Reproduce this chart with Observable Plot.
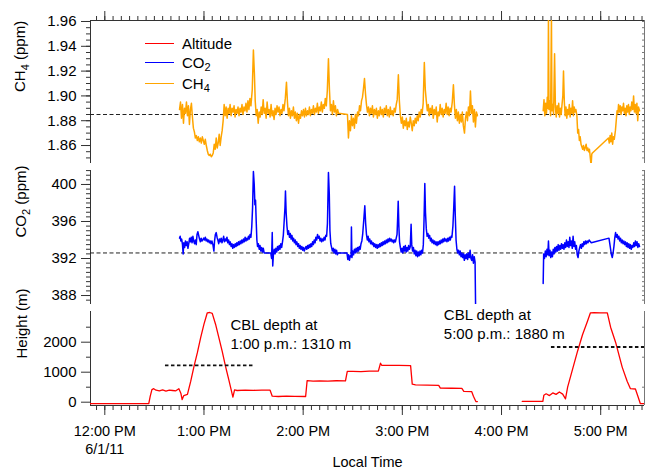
<!DOCTYPE html>
<html><head><meta charset="utf-8">
<script src="https://cdn.jsdelivr.net/npm/d3@7"></script>
<script src="https://cdn.jsdelivr.net/npm/@observablehq/plot@0.6"></script>
<style>
body{margin:0;background:#fff;}
#chart{position:relative;width:646px;height:472px;font-family:"Liberation Sans",Arial,sans-serif;overflow:hidden;}
#chart svg{position:absolute;left:0;}
.leg{position:absolute;left:182px;font-size:15px;line-height:18px;color:#000;white-space:nowrap;}
.leg sub{font-size:11px;vertical-align:-3px;line-height:0;}
.sw{position:absolute;left:145px;width:29px;height:1.5px;}
</style></head><body><div id="chart"></div>
<script>
// ---- time axis (minutes after 12:00 PM, 6/1/11) ----
const hourTicks = [0, 60, 120, 180, 240, 300];
const hourLabels = ["12:00 PM\n6/1/11", "1:00 PM", "2:00 PM", "3:00 PM", "4:00 PM", "5:00 PM"];
const xMinor = d3.range(-5, 326, 5);

// ---- CH4 (ppm) ----
const ch4Baseline = 1.885;
const ch4Major = [1.86, 1.88, 1.90, 1.92, 1.94, 1.96];
const ch4Flight1 = [
[45.2,1.889],[45.8,1.895],[46.4,1.882],[47.0,1.893],[47.6,1.878],[48.2,1.890],[48.8,1.886],[49.4,1.895],[50.0,1.884],[50.6,1.892],
[51.2,1.877],[51.8,1.889],[52.4,1.894],[53.0,1.883],[53.6,1.874],[54.2,1.871],[54.8,1.866],[55.4,1.868],[56.0,1.864],[56.6,1.867],
[57.2,1.863],[57.8,1.866],[58.4,1.862],[59.0,1.867],[59.6,1.864],[60.2,1.861],[60.8,1.865],[61.4,1.860],[62.0,1.856],[62.6,1.853],
[63.2,1.852],[63.8,1.853],[64.4,1.851],[65.0,1.852],[65.6,1.854],[66.2,1.861],[66.8,1.857],[67.4,1.866],[68.0,1.858],[68.6,1.862],
[69.2,1.869],[69.8,1.860],[70.4,1.867],[71.0,1.872],[71.6,1.880],[72.2,1.893],[72.8,1.884],[73.4,1.891],[74.0,1.882],[74.6,1.890],
[75.2,1.886],[75.8,1.893],[76.4,1.884],[77.0,1.890],[77.6,1.887],[78.2,1.892],[78.8,1.883],[79.4,1.889],[80.0,1.886],[80.6,1.891],
[81.2,1.884],[81.8,1.890],[82.4,1.887],[83.0,1.893],[83.6,1.885],[84.2,1.891],[84.8,1.888],[85.4,1.894],[86.0,1.887],[86.6,1.896],
[87.2,1.889],[87.8,1.898],[88.4,1.892],[89.2,1.905],[89.9,1.937],[90.5,1.918],[91.0,1.896],[91.6,1.884],[92.2,1.889],[92.8,1.878],
[93.4,1.887],[94.0,1.883],[94.6,1.891],[95.2,1.885],[95.8,1.897],[96.4,1.886],[97.0,1.890],[97.6,1.882],[98.2,1.895],[98.8,1.886],
[99.4,1.889],[100.0,1.883],[100.6,1.893],[101.2,1.884],[101.8,1.888],[102.4,1.881],[103.0,1.890],[103.6,1.885],[104.2,1.892],[104.8,1.887],
[105.4,1.891],[106.0,1.884],[106.6,1.889],[107.2,1.886],[107.8,1.893],[108.4,1.888],[109.2,1.898],[109.9,1.911],[110.5,1.895],[111.1,1.884],
[111.7,1.890],[112.3,1.882],[112.9,1.888],[113.5,1.884],[114.1,1.891],[114.7,1.882],[115.3,1.887],[115.9,1.880],[116.5,1.886],[117.2,1.878],
[117.8,1.885],[118.4,1.882],[119.0,1.888],[119.6,1.884],[120.2,1.889],[120.8,1.883],[121.4,1.890],[122.0,1.884],[122.6,1.888],[123.2,1.885],
[123.8,1.891],[124.4,1.884],[125.0,1.889],[125.6,1.886],[126.2,1.892],[126.8,1.885],[127.4,1.890],[128.0,1.887],[128.6,1.894],[129.2,1.886],
[129.8,1.891],[130.4,1.888],[131.0,1.895],[131.6,1.887],[132.2,1.893],[132.8,1.890],[133.4,1.898],[134.0,1.892],[134.6,1.904],[135.3,1.930],
[135.9,1.905],[136.5,1.888],[137.1,1.893],[137.7,1.885],[138.3,1.896],[138.9,1.887],[139.5,1.892],[140.1,1.884],[140.8,1.889],[141.4,1.886],
[146.8,1.885],[147.4,1.866],[148.0,1.880],[148.6,1.872],[149.2,1.884],[149.8,1.876],[150.4,1.882],[151.0,1.874],[151.6,1.885],[152.2,1.878],
[152.9,1.887],[153.5,1.884],[154.1,1.892],[154.7,1.888],[155.3,1.896],[155.9,1.899],[156.5,1.906],[157.1,1.914],[157.7,1.902],[158.3,1.893],
[158.9,1.887],[159.5,1.891],[160.1,1.884],[160.7,1.890],[161.3,1.886],[161.9,1.892],[162.5,1.883],[163.1,1.889],[163.7,1.885],[164.3,1.890],
[164.9,1.882],[165.5,1.888],[166.1,1.884],[166.7,1.891],[167.3,1.885],[167.9,1.889],[168.5,1.883],[169.1,1.890],[169.7,1.886],[170.3,1.892],
[170.9,1.884],[171.5,1.889],[172.1,1.883],[172.7,1.891],[173.3,1.885],[173.9,1.888],[174.5,1.884],[175.1,1.890],[175.7,1.887],[176.3,1.893],
[176.9,1.897],[177.6,1.917],[178.2,1.896],[178.8,1.884],[179.4,1.878],[180.0,1.883],[180.6,1.874],[181.2,1.880],[181.8,1.876],[182.4,1.882],
[183.0,1.873],[183.6,1.879],[184.2,1.875],[184.8,1.883],[185.4,1.878],[186.0,1.872],[186.6,1.880],[187.2,1.876],[187.8,1.882],[188.4,1.878],
[189.0,1.884],[189.6,1.880],[190.2,1.887],[190.8,1.883],[191.4,1.889],[192.0,1.886],[192.6,1.894],[193.3,1.927],[193.9,1.905],[194.5,1.896],
[195.1,1.888],[195.7,1.893],[196.3,1.884],[196.9,1.890],[197.5,1.886],[198.1,1.892],[198.7,1.882],[199.3,1.889],[199.9,1.885],[200.5,1.891],
[201.1,1.879],[201.7,1.887],[202.3,1.884],[202.9,1.893],[203.5,1.885],[204.1,1.890],[204.7,1.883],[205.3,1.889],[205.9,1.886],[206.5,1.894],
[207.1,1.885],[207.7,1.891],[208.3,1.884],[208.9,1.890],[209.5,1.887],[210.2,1.895],[210.9,1.909],[211.5,1.893],[212.1,1.882],[212.7,1.889],
[213.3,1.880],[213.9,1.887],[214.5,1.878],[215.1,1.885],[215.7,1.879],[216.3,1.887],[216.9,1.876],[217.6,1.870],[218.2,1.882],[218.8,1.887],
[219.4,1.880],[220.0,1.891],[220.6,1.884],[221.2,1.904],[221.8,1.886],[222.4,1.892],[223.0,1.879],[223.6,1.889],[224.2,1.875],[224.8,1.887],
[225.4,1.884]];
const ch4Flight2 = [
[265.2,1.888],[265.7,1.897],[266.2,1.884],[266.7,1.894],[267.2,1.886],[267.7,1.899],[268.1,1.890],[268.4,1.965],[268.7,1.889],[269.2,1.896],
[269.7,1.884],[270.2,1.965],[270.5,1.888],[271.0,1.893],[271.5,1.885],[272.1,1.934],[272.6,1.891],[273.1,1.883],[273.6,1.892],[274.1,1.886],
[274.6,1.894],[275.1,1.883],[275.6,1.890],[276.1,1.885],[276.6,1.893],[277.1,1.900],[277.5,1.920],[278.0,1.895],[278.5,1.884],[279.0,1.891],
[279.5,1.882],[280.0,1.889],[280.5,1.885],[281.0,1.893],[281.5,1.883],[282.0,1.890],[282.5,1.886],[283.0,1.896],[283.5,1.884],[284.0,1.891],
[284.5,1.887],[285.0,1.889],[285.6,1.884],[286.1,1.870],[286.6,1.873],[287.1,1.864],[287.6,1.867],[288.1,1.861],[288.6,1.859],[289.1,1.857],
[289.6,1.860],[290.1,1.856],[290.6,1.858],[291.2,1.861],[291.7,1.856],[292.2,1.858],[292.7,1.855],[293.2,1.857],[293.8,1.849],[294.2,1.844],
[294.6,1.853],[295.0,1.854],[304.7,1.866],[305.2,1.862],[305.7,1.868],[306.2,1.863],[306.7,1.870],[307.2,1.861],[307.7,1.867],[308.2,1.865],
[308.9,1.872],[309.4,1.880],[309.9,1.888],[310.4,1.886],[310.8,1.893],[311.3,1.887],[311.8,1.892],[312.3,1.885],[312.8,1.891],[313.3,1.888],
[313.8,1.894],[314.3,1.886],[314.8,1.890],[315.3,1.884],[315.8,1.892],[316.3,1.887],[316.8,1.893],[317.3,1.885],[317.8,1.891],[318.3,1.888],
[318.8,1.895],[319.4,1.889],[319.9,1.900],[320.4,1.887],[320.9,1.893],[321.4,1.886],[321.9,1.894],[322.4,1.880],[322.9,1.891],[323.5,1.888]];

// ---- CO2 (ppm) ----
const co2Baseline = 392.6;
const co2Major = [388, 392, 396, 400];
const co2Flight1 = [
[45.2,394.2],[45.6,394.4],[46.0,393.9],[46.5,394.1],[47.0,393.5],[47.4,392.5],[47.8,393.7],[48.3,393.2],[48.8,393.9],[49.3,393.4],
[49.8,393.8],[50.3,393.1],[50.8,393.6],[51.3,394.2],[51.8,393.8],[52.3,394.3],[52.8,393.7],[53.3,394.4],[53.8,393.9],[54.3,393.6],
[54.8,394.0],[55.3,393.5],[55.8,394.6],[56.3,394.9],[56.8,394.5],[57.3,394.1],[57.8,393.8],[58.3,394.2],[58.8,393.9],[59.3,394.0],
[59.8,394.2],[60.3,394.0],[60.8,394.3],[61.3,393.9],[61.8,394.1],[62.3,393.8],[62.8,394.0],[63.3,393.7],[63.8,393.9],[64.3,393.6],
[64.8,393.9],[65.4,393.5],[66.0,392.8],[66.4,393.9],[66.9,394.6],[67.4,394.8],[67.9,394.3],[68.4,394.0],[68.9,393.6],[69.4,394.1],
[69.9,393.8],[70.4,394.2],[70.9,393.7],[71.4,394.0],[71.9,394.4],[72.4,393.8],[72.9,394.1],[73.4,393.9],[73.9,394.3],[74.4,393.7],
[74.9,394.0],[75.4,393.5],[75.9,393.8],[76.4,393.3],[76.9,393.6],[77.4,393.1],[77.9,393.5],[78.4,393.2],[78.9,393.6],[79.4,393.3],
[79.9,393.7],[80.4,393.4],[80.9,393.8],[81.4,393.5],[81.9,393.9],[82.4,393.6],[82.9,394.0],[83.4,393.7],[83.9,394.1],[84.4,393.8],
[84.9,394.3],[85.4,393.9],[85.9,394.2],[86.4,394.0],[86.9,394.4],[87.4,394.1],[87.9,394.6],[88.4,394.3],[88.9,395.4],[89.4,397.5],
[89.9,401.4],[90.4,400.0],[90.8,397.8],[91.2,398.3],[91.6,396.0],[92.0,394.0],[92.4,393.3],[92.9,393.6],[93.4,393.0],[93.9,393.4],
[94.4,392.8],[94.9,393.2],[95.4,392.7],[95.9,393.1],[96.4,392.6],[100.4,392.6],[100.9,392.0],[101.3,394.8],[101.6,391.2],[102.0,392.4],
[102.5,393.0],[103.0,392.5],[103.5,393.1],[104.0,392.7],[104.5,393.3],[105.0,392.9],[105.5,393.4],[106.0,393.0],[106.5,393.6],[107.0,393.2],
[107.5,393.8],[108.0,394.5],[108.5,396.0],[109.0,397.5],[109.3,399.3],[109.7,397.0],[110.2,395.5],[110.7,394.6],[111.2,395.0],[111.7,394.3],
[112.2,394.7],[112.7,394.1],[113.2,394.5],[113.7,393.9],[114.2,394.2],[114.7,393.7],[115.2,394.0],[115.7,393.5],[116.2,393.8],[116.7,393.3],
[117.2,393.6],[117.7,393.1],[118.2,393.4],[118.7,393.0],[119.2,393.3],[119.7,392.9],[120.2,393.2],[120.7,392.8],[121.2,393.1],[121.7,393.3],
[122.2,393.0],[122.7,393.4],[123.2,393.1],[123.7,393.5],[124.2,393.2],[124.7,393.6],[125.2,393.3],[125.7,393.8],[126.2,393.5],[126.7,394.0],
[127.2,393.7],[127.7,394.3],[128.2,394.0],[128.7,394.6],[129.2,394.2],[129.7,394.4],[130.2,393.9],[130.7,394.2],[131.2,393.8],[131.7,394.1],
[132.2,393.9],[132.7,394.3],[133.2,394.0],[133.7,394.5],[134.2,394.4],[134.7,395.8],[135.3,401.3],[135.8,399.0],[136.2,395.0],[136.7,393.6],
[137.2,393.2],[137.7,392.8],[138.2,393.1],[138.7,392.6],[139.2,393.0],[139.7,392.5],[140.2,392.9],[140.7,392.4],[141.2,392.6],[146.5,392.6],
[147.0,391.9],[147.5,392.4],[148.0,391.8],[148.5,392.3],[149.0,392.2],[149.2,395.4],[149.5,392.1],[150.0,392.8],[150.5,392.4],[151.0,393.0],
[151.5,392.6],[152.0,393.1],[152.5,392.7],[153.0,393.2],[153.5,392.8],[154.0,393.3],[154.5,393.0],[155.0,393.6],[155.5,393.9],[156.0,394.6],
[156.6,396.0],[157.3,397.7],[157.8,395.8],[158.3,394.6],[158.8,394.0],[159.3,394.4],[159.8,393.8],[160.3,394.1],[160.8,393.6],[161.3,393.9],
[161.8,393.5],[162.3,393.7],[162.8,393.3],[163.3,393.6],[163.8,393.2],[164.3,393.5],[164.8,393.1],[165.3,393.5],[165.8,393.2],[166.3,393.6],
[166.8,393.3],[167.3,393.7],[167.8,393.4],[168.3,393.8],[168.8,393.5],[169.3,393.9],[169.8,393.6],[170.3,394.0],[170.8,393.7],[171.3,394.1],
[171.8,393.8],[172.3,394.2],[172.8,393.9],[173.3,394.1],[173.8,393.8],[174.3,394.0],[174.8,393.7],[175.3,394.0],[175.8,393.8],[176.3,394.2],
[176.8,394.6],[177.2,396.5],[177.5,398.2],[177.9,395.5],[178.3,393.8],[178.8,393.2],[179.3,392.7],[179.8,393.1],[180.3,392.6],[180.8,393.3],
[181.3,392.8],[181.8,393.4],[182.3,392.7],[182.8,393.2],[183.3,392.8],[183.8,393.4],[184.3,393.0],[184.8,393.3],[185.3,395.7],[185.7,393.5],
[186.2,392.8],[186.7,393.2],[187.2,392.5],[187.7,392.9],[188.2,392.3],[188.7,392.8],[189.2,392.2],[189.7,392.7],[190.2,392.3],[190.7,392.8],
[191.2,392.4],[191.7,392.9],[192.2,392.6],[192.7,393.5],[193.1,396.0],[193.6,400.1],[194.0,397.0],[194.5,395.2],[195.0,394.4],[195.5,394.7],
[196.0,394.2],[196.5,394.5],[197.0,393.9],[197.5,394.2],[198.0,393.7],[198.5,394.0],[199.0,393.6],[199.5,393.9],[200.0,393.5],[200.5,393.8],
[201.0,393.4],[201.5,393.8],[202.0,393.5],[202.5,393.9],[203.0,393.6],[203.5,394.0],[204.0,393.7],[204.5,394.1],[205.0,393.8],[205.5,394.2],
[206.0,393.9],[206.5,394.1],[207.0,393.8],[207.5,394.2],[208.0,393.9],[208.5,394.3],[209.0,394.0],[209.5,394.4],[210.0,394.3],[210.6,395.5],
[211.1,397.5],[211.6,399.8],[212.0,396.8],[212.5,394.0],[213.0,393.0],[213.5,392.6],[214.0,392.9],[214.5,392.4],[215.0,392.8],[215.5,392.2],
[216.0,392.6],[216.5,392.1],[217.0,392.5],[217.5,391.8],[218.0,392.4],[218.5,392.0],[219.0,392.5],[219.5,391.9],[220.0,392.6],[220.5,392.1],
[221.0,392.9],[221.5,392.0],[222.0,391.8],[222.5,392.4],[223.0,391.5],[223.5,392.2],[224.0,391.6],[224.3,387.1]];
const co2Flight2 = [
[265.2,389.3],[265.5,392.5],[266.0,392.0],[266.5,392.8],[267.0,392.2],[267.5,393.0],[268.0,392.4],[268.4,393.9],[268.8,392.3],[269.3,392.9],
[269.8,392.1],[270.3,392.7],[270.8,392.2],[271.3,393.0],[271.8,392.5],[272.3,393.2],[272.8,392.7],[273.3,393.3],[273.8,392.8],[274.3,393.5],
[274.8,392.9],[275.3,393.4],[275.8,393.0],[276.3,393.6],[276.8,393.1],[277.3,393.5],[277.8,393.0],[278.3,393.7],[278.8,393.2],[279.3,394.0],
[279.8,393.3],[280.3,393.8],[280.8,393.2],[281.3,394.3],[281.8,393.4],[282.3,393.9],[282.8,393.1],[283.3,394.4],[283.8,393.3],[284.3,393.8],
[284.8,393.0],[285.3,393.4],[285.8,392.4],[286.3,392.1],[286.8,392.8],[287.3,393.2],[287.8,393.5],[288.3,393.1],[288.8,393.6],[289.3,393.3],
[289.8,393.8],[290.3,393.5],[290.8,393.9],[291.3,393.6],[291.8,393.9],[292.3,393.7],[293.0,394.0],[293.8,393.8],[294.3,393.7],[305.0,394.2],
[305.5,393.6],[306.0,393.0],[306.5,392.4],[307.0,392.1],[307.5,392.6],[308.0,393.3],[308.5,394.2],[309.0,394.8],[309.5,394.3],[310.0,394.6],
[310.5,394.1],[311.0,394.4],[311.5,393.9],[312.0,394.2],[312.5,393.7],[313.0,394.0],[313.5,393.6],[314.0,393.9],[314.5,393.5],[315.0,393.8],
[315.5,393.3],[316.0,393.7],[316.5,393.2],[317.0,393.6],[317.5,393.1],[318.0,393.5],[318.5,393.0],[319.0,393.4],[319.5,393.2],[320.0,393.7],
[320.5,393.3],[321.0,393.9],[321.5,393.4],[322.0,393.8],[322.5,393.2],[323.0,393.6],[323.5,393.3]];

// ---- Height (m) ----
const hMajor = [0, 1000, 2000];
const hMinor = [500, 1500, 2500];
const heightFlight1 = [
[-9,-50],[26.6,-50],[27.5,200],[28.5,420],[29.6,450],[31,400],[33,380],[35,410],[37,370],[39,400],[41,390],[43,380],[44.8,450],
[46.0,300],[46.8,90],[47.8,220],[50,260],[52,700],[54,1200],[56,1650],[58,2150],[60,2600],[62,2980],[63.5,2990],[65,2960],
[67,2600],[69,2150],[71,1700],[73,1200],[75,750],[77.5,170],[78.5,410],[80,390],[85,400],[90,395],[95,405],[100,400],
[101.3,200],[105,190],[110,200],[115,195],[121.5,190],[122.4,720],[126,700],[130,710],[135,705],[140,715],[145.6,710],
[146.7,1030],[150,1030],[155,1020],[160,1035],[165.5,1035],[166.8,1300],[167.5,1230],[172,1225],[178,1230],[185,1220],
[186,600],[188,580],[195,570],[202,560],[203,470],[210,465],[216,460],[217.2,360],[222,350],[223,200],[224.5,20],[225.4,20]];
const heightFlight2 = [
[252.5,30],[265,30],[265.6,230],[267,280],[269,220],[271,310],[273,260],[275,340],[277,270],[278.7,110],[280,500],
[283,1100],[286,1700],[289,2250],[292,2700],[293.8,2980],[296,2985],[300,2975],[304,2980],[306,2500],[309,2000],
[313,1170],[316,700],[318,450],[321,440],[322.5,200],[324,-50],[328,-50]];

// ---- CBL depth annotations ----
const cblStart = [36.7, 270.2];
const cblEnd = [91, 328];
const cblDepth = [1230, 1840];
const cblTextX = [76, 205.1];
const cblTextY = [2290, 2613];
const cblText = ["CBL depth at\n1:00 p.m.: 1310 m", "CBL depth at\n5:00 p.m.: 1880 m"];

// ---- legend ----
const legendNames = ["Altitude", "CO<sub>2</sub>", "CH<sub>4</sub>"];
const legendColors = ["#ff0000", "#0000ff", "#ffa500"];

// ================= layout =================
const W = 646, ML = 90, MR = 2;
const xDomain = [-8.65, 326.5];
const ch4Domain = [1.8455, 1.9608];
const co2Domain = [387.03, 401.51];
const hDomain = [-110, 3023];
const TICK = "#333";
const FONT = '"Liberation Sans", Arial, sans-serif';
const T = d => d[0], V = d => d[1];
const chart = document.getElementById("chart");
const blank = () => "";

function frameMarks(domainY, major, minor, fmt) {
  return [
    Plot.ruleX([xDomain[0]], {stroke: TICK}),
    Plot.ruleX([xDomain[1]], {stroke: "#777"}),
    Plot.axisY({anchor: "left", ticks: minor, tickSize: 4, tickFormat: blank, stroke: TICK, label: null}),
    Plot.axisY({anchor: "left", ticks: major, tickSize: 9, tickPadding: 5, tickFormat: fmt, stroke: TICK, fontSize: 15, label: null}),
    Plot.axisY({anchor: "right", ticks: minor, tickSize: 3, dx: -3, tickFormat: blank, stroke: "#777", label: null})
  ];
}

function panel(top, height, mt, mb, yDomain, marks) {
  const svg = Plot.plot({
    width: W, height, marginTop: mt, marginBottom: mb, marginLeft: ML, marginRight: MR,
    x: {domain: xDomain, axis: null},
    y: {domain: yDomain, axis: null},
    style: {fontFamily: FONT, fontSize: "15px", background: "transparent", color: "#000", overflow: "visible"},
    marks
  });
  svg.style.top = top + "px";
  chart.appendChild(svg);
  return svg;
}

function subscript(svg, from, html) {
  svg.querySelectorAll("text").forEach(t => { if (t.textContent === from) t.innerHTML = html; });
}

// CH4 panel
const p1 = panel(0, 168, 20, 5, ch4Domain, [
  ...frameMarks(ch4Domain, ch4Major, d3.range(1850, 1961, 5).map(v => v / 1000), d3.format(".2f")),
  Plot.ruleY([ch4Domain[1]], {stroke: TICK}),
  Plot.axisX({anchor: "top", ticks: xMinor, tickSize: 5, tickFormat: blank, stroke: TICK, label: null}),
  Plot.axisX({anchor: "top", ticks: hourTicks, tickSize: 10, tickFormat: blank, stroke: TICK, label: null}),
  Plot.ruleY([ch4Baseline], {stroke: "#222", strokeDasharray: "4,2.5", strokeWidth: 1}),
  Plot.line(ch4Flight1, {x: T, y: V, stroke: legendColors[2], strokeWidth: 1.5, clip: true}),
  Plot.line(ch4Flight2, {x: T, y: V, stroke: legendColors[2], strokeWidth: 1.5, clip: true}),
  Plot.text(["CH4 (ppm)"], {frameAnchor: "left", rotate: -90, dx: -70, fontSize: 15})
]);
subscript(p1, "CH4 (ppm)", 'CH<tspan dy="4" font-size="11">4</tspan><tspan dy="-4"> (ppm)</tspan>');

// CO2 panel
const p2 = panel(165, 145, 5, 6, co2Domain, [
  ...frameMarks(co2Domain, co2Major, d3.range(775, 804).map(v => v / 2), d3.format("d")),
  Plot.ruleY([co2Baseline], {stroke: "#222", strokeDasharray: "4,2.5", strokeWidth: 1}),
  Plot.line(co2Flight1, {x: T, y: V, stroke: legendColors[1], strokeWidth: 1.5, clip: true}),
  Plot.line(co2Flight2, {x: T, y: V, stroke: legendColors[1], strokeWidth: 1.5, clip: true}),
  Plot.text(["CO2 (ppm)"], {frameAnchor: "left", rotate: -90, dx: -69, fontSize: 15})
]);
subscript(p2, "CO2 (ppm)", 'CO<tspan dy="4" font-size="11">2</tspan><tspan dy="-4"> (ppm)</tspan>');

// Height panel
panel(305, 167, 6, 67, hDomain, [
  ...frameMarks(hDomain, hMajor, hMinor, d3.format("d")),
  Plot.ruleY([hDomain[0]], {stroke: TICK}),
  Plot.axisX({anchor: "bottom", ticks: xMinor, tickSize: 5, tickFormat: blank, stroke: TICK, label: null}),
  Plot.axisX({anchor: "bottom", ticks: hourTicks, tickSize: 10, tickPadding: 8, stroke: TICK, label: null,
    tickFormat: d => hourLabels[hourTicks.indexOf(d)], fontSize: 14.5, lineHeight: 1.22}),
  Plot.line(heightFlight1, {x: T, y: V, stroke: legendColors[0], strokeWidth: 1.3, clip: true}),
  Plot.line(heightFlight2, {x: T, y: V, stroke: legendColors[0], strokeWidth: 1.3, clip: true}),
  Plot.ruleY(cblDepth.map((d, i) => i), {y: i => cblDepth[i], x1: i => cblStart[i], x2: i => cblEnd[i],
    stroke: "#111", strokeDasharray: "3.5,2.5", strokeWidth: 1.8, clip: true}),
  Plot.text(cblText.map((d, i) => i), {x: i => cblTextX[i], y: i => cblTextY[i], text: i => cblText[i],
    textAnchor: "start", lineAnchor: "middle", lineHeight: 1.25, fontSize: 15, fill: "#000"}),
  Plot.text(["Height (m)"], {frameAnchor: "left", rotate: -90, dx: -68, fontSize: 15}),
  Plot.text(["Local Time"], {frameAnchor: "bottom", dy: 61, fontSize: 14.5})
]);

// legend (HTML overlay)
const legendY = [43.5, 62.5, 83.5];
legendNames.forEach((name, i) => {
  const sw = document.createElement("div");
  sw.className = "sw";
  sw.style.top = (legendY[i] - 0.75) + "px";
  sw.style.background = legendColors[i];
  chart.appendChild(sw);
  const lab = document.createElement("div");
  lab.className = "leg";
  lab.style.top = (legendY[i] - 9) + "px";
  lab.innerHTML = name;
  chart.appendChild(lab);
});
</script>
</body></html>
